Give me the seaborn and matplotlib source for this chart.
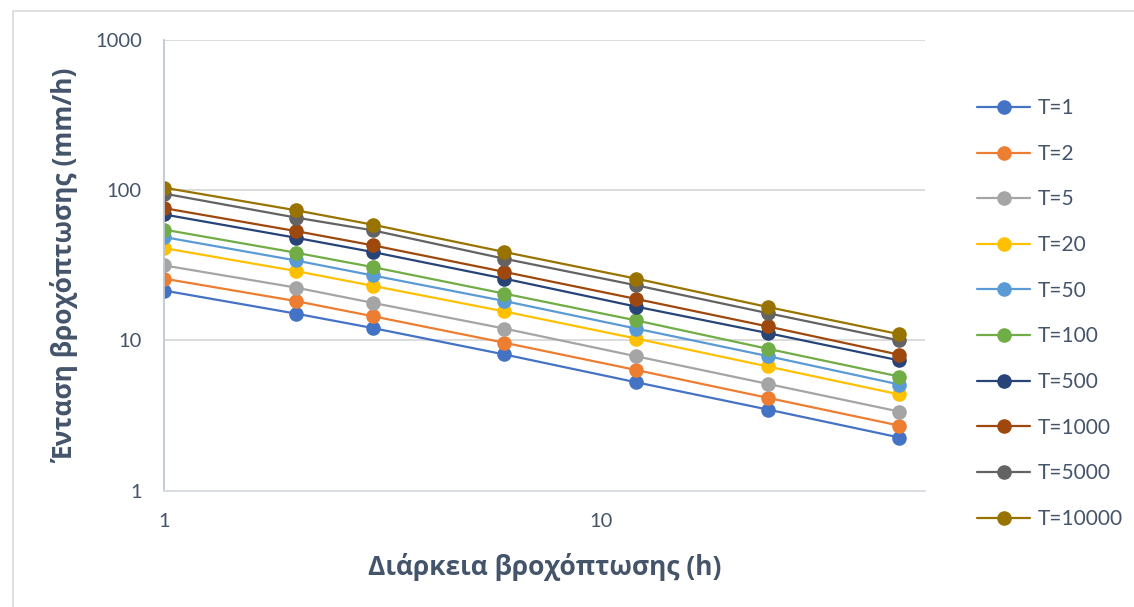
import numpy as np
import pandas as pd
import matplotlib
matplotlib.use("Agg")
import matplotlib.pyplot as plt
from matplotlib.patches import Rectangle
import seaborn as sns

# ---- data ----
durations = [1, 2, 3, 6, 12, 24, 48]
return_periods = ["T=1", "T=2", "T=5", "T=20", "T=50", "T=100", "T=500", "T=1000", "T=5000", "T=10000"]
i_T1 = [21.5, 15.1, 12.1, 8.07, 5.27, 3.47, 2.26]
i_T2 = [25.8, 18.3, 14.5, 9.66, 6.36, 4.15, 2.71]
i_T5 = [31.6, 22.5, 17.8, 12.0, 7.85, 5.14, 3.36]
i_T20 = [41.2, 29.0, 23.1, 15.6, 10.3, 6.71, 4.37]
i_T50 = [48.8, 34.1, 27.1, 18.3, 12.0, 7.87, 5.09]
i_T100 = [54.7, 38.4, 30.8, 20.5, 13.6, 8.8, 5.75]
i_T500 = [69.0, 48.3, 38.8, 25.8, 16.8, 11.2, 7.36]
i_T1000 = [76.0, 53.5, 43.0, 28.6, 18.9, 12.4, 8.03]
i_T5000 = [95.0, 65.8, 54.1, 35.0, 23.3, 15.2, 10.0]
i_T10000 = [104.0, 73.6, 59.0, 38.8, 25.8, 16.7, 11.0]
series = [i_T1, i_T2, i_T5, i_T20, i_T50, i_T100, i_T500, i_T1000, i_T5000, i_T10000]
colors = ["#4472C4", "#ED7D31", "#A5A5A5", "#FFC000", "#5B9BD5",
          "#70AD47", "#264478", "#9E480E", "#636363", "#997300"]
x_ticks = [1, 10]
y_ticks = [1, 10, 100, 1000]
xlabel = "Διάρκεια βροχόπτωσης (h)"
ylabel = "Ένταση βροχόπτωσης (mm/h)"

sns.set_theme(style="white")
plt.rcParams["font.family"] = ["Lato", "Open Sans", "DejaVu Sans"]

text_col = "#44546A"
W, H = 1134, 607
fig = plt.figure(figsize=(W / 100, H / 100), dpi=100)
ax = fig.add_axes([164 / W, 1 - 490.7 / H, (925 - 164) / W, (490.7 - 40) / H])

for name, vals, c in zip(return_periods, series, colors):
    df = pd.DataFrame({"t": durations, "i": vals})
    sns.lineplot(data=df, x="t", y="i", color=c, marker="o", markersize=10.5,
                 markeredgewidth=0, linewidth=1.6, label=name, ax=ax)

ax.set_xscale("log")
ax.set_yscale("log")
ax.set_xlim(1, 54.9)
ax.set_ylim(1, 1000)
ax.set_xticks(x_ticks)
ax.set_xticklabels([str(v) for v in x_ticks])
ax.set_yticks(y_ticks)
ax.set_yticklabels([str(v) for v in y_ticks])
ax.minorticks_off()
ax.tick_params(axis="both", length=0, labelsize=14.5, labelcolor=text_col)
ax.tick_params(axis="x", pad=16)
ax.tick_params(axis="y", pad=16)

ax.yaxis.grid(True, color="#D9D9D9", linewidth=1.3)
ax.xaxis.grid(False)
ax.set_axisbelow(True)
for s in ["top", "right"]:
    ax.spines[s].set_visible(False)
ax.spines["left"].set_color("#BFC7D5")
ax.spines["left"].set_linewidth(1.3)
ax.spines["bottom"].set_color("#D9DDE3")
ax.spines["bottom"].set_linewidth(1.3)

ax.set_xlabel(xlabel, fontsize=19, fontweight="bold", color=text_col,
              family=["Open Sans", "DejaVu Sans"])
ax.set_ylabel(ylabel, fontsize=19, fontweight="bold", color=text_col,
              family=["Open Sans", "DejaVu Sans"])
ax.xaxis.set_label_coords(0.5, -0.138)
ax.yaxis.set_label_coords(-0.112, 0.5)

handles, labels = ax.get_legend_handles_labels()
leg = ax.legend(handles, labels, loc="center left",
                bbox_to_anchor=(977 / W, 1 - 313.5 / H), bbox_transform=fig.transFigure,
                frameon=False, fontsize=15, labelcolor=text_col,
                handlelength=2.55, handletextpad=0.35, labelspacing=1.23,
                borderaxespad=0, borderpad=0)

fig.patches.append(Rectangle((13 / W, -0.1), 1.2, 1 - 11 / H + 0.1,
                             transform=fig.transFigure, fill=False,
                             edgecolor="#D9D9D9", linewidth=1.2))

fig.savefig("out.png", dpi=100)
